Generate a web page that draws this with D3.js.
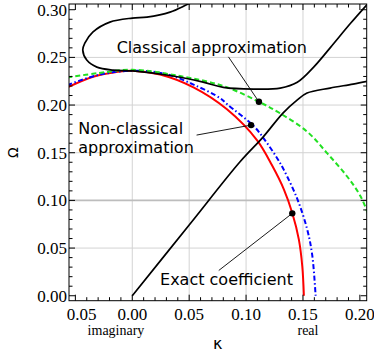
<!DOCTYPE html>
<html lang="en">
<head>
<meta charset="UTF-8">
<script src="https://cdn.jsdelivr.net/npm/d3@7/dist/d3.min.js"></script>
<style>
    body { margin: 0; background: #fff; }
    .tick-label { font-family: "Liberation Serif", serif; font-size: 17px; fill: #000; }
    .side-label { font-family: "Liberation Serif", serif; font-size: 14px; fill: #000; }
    .axis-title { font-family: "DejaVu Sans", sans-serif; fill: #000; }
    .note { font-family: "DejaVu Sans", sans-serif; font-size: 16px; fill: #000; }
</style>
</head>
<body>
<svg width="374" height="354"></svg>
<script>
// exact coefficient (red)
var exactK = [-0.057, -0.0344, -0.015, 0, 0.0244, 0.0538, 0.0832, 0.1097, 0.1229, 0.1332, 0.1406, 0.1464, 0.1494, 0.1508];
var exactW = [0.2185, 0.2297, 0.2345, 0.236, 0.232, 0.2185, 0.1955, 0.163, 0.1365, 0.1116, 0.0868, 0.0589, 0.0308, 0];
// non-classical approximation (blue, dash-dot)
var nonK = [-0.057, -0.03, 0, 0.03, 0.0538, 0.0773, 0.0832, 0.1067, 0.117, 0.1273, 0.1332, 0.145, 0.1538, 0.1582, 0.1611];
var nonW = [0.221, 0.2315, 0.236, 0.2325, 0.2215, 0.2072, 0.201, 0.178, 0.1625, 0.1443, 0.132, 0.1015, 0.0692, 0.042, 0];
// classical approximation (green, dashed)
var clasK = [-0.057, -0.03, 0, 0.042, 0.0802, 0.1113, 0.130, 0.1538, 0.1714, 0.189, 0.2008, 0.209];
var clasW = [0.229, 0.2335, 0.237, 0.2304, 0.2199, 0.2034, 0.1913, 0.172, 0.1493, 0.1248, 0.1038, 0.080];
// black curves: upper loop and lower branch from origin
var upperK = [0.0572, 0.0491, 0.0332, 0.0129, 0, -0.0197, -0.0347, -0.0417, -0.0435, -0.040, -0.0311, -0.017, 0.0006, 0.0332, 0.0623, 0.080, 0.1065, 0.130, 0.145, 0.1594, 0.1744, 0.192, 0.209];
var upperW = [0.310, 0.3059, 0.2975, 0.2923, 0.2912, 0.287, 0.2765, 0.265, 0.2576, 0.2472, 0.2398, 0.2367, 0.2358, 0.231, 0.224, 0.2185, 0.2168, 0.2178, 0.2239, 0.2398, 0.2608, 0.286, 0.309];
var lowerK = [0, 0.05, 0.0947, 0.1149, 0.1324, 0.1448, 0.1536, 0.1738, 0.194, 0.209];
var lowerW = [0, 0.0742, 0.1405, 0.1664, 0.1916, 0.2052, 0.2126, 0.2178, 0.222, 0.2255];

// labelled points
var dotK = [0.1113, 0.1044, 0.1406];
var dotW = [0.2034, 0.179, 0.0864];
var noteText = [["Classical approximation"], ["Non-classical", "approximation"], ["Exact coefficient"]];
var noteK = [-0.0137, -0.0475, 0.0244];
var noteW = [0.2542, 0.1696, 0.0112];
var leadK = [0.0845, 0.0565, 0.076];
var leadW = [0.2506, 0.1685, 0.0265];

// ticks
var xLabelAt = [-0.0445, 0, 0.05, 0.10, 0.15, 0.20];
var xLabels = ["0.05", "0.00", "0.05", "0.10", "0.15", "0.20"];
var yMajor = [0, 0.05, 0.10, 0.15, 0.20, 0.25, 0.30];
var xGrid = [0, 0.05, 0.10, 0.15];
var yGrid = [0.05, 0.10, 0.15, 0.20, 0.25];
var sideText = ["imaginary", "real"];
var sideK = [-0.0143, 0.1544];

var svg = d3.select("svg");
var pL = 69, pR = 366.7, pT = 4, pB = 300.7;

var x = d3.scaleLinear().domain([-0.0556, 0.206]).range([pL, pR]);
var y = d3.scaleLinear().domain([-0.0052, 0.306]).range([pB, pT]);

svg.append("defs").append("clipPath").attr("id", "plot")
    .append("rect")
    .attr("x", pL).attr("y", pT)
    .attr("width", pR - pL).attr("height", pB - pT);

// grid
var grid = svg.append("g");
grid.selectAll(".gx").data(xGrid).enter().append("line")
    .attr("x1", function(d) { return x(d); }).attr("x2", function(d) { return x(d); })
    .attr("y1", pT).attr("y2", pB)
    .attr("stroke", "#d3d3d3").attr("stroke-width", 1);
grid.selectAll(".gy").data(yGrid).enter().append("line")
    .attr("x1", pL).attr("x2", pR)
    .attr("y1", function(d) { return y(d); }).attr("y2", function(d) { return y(d); })
    .attr("stroke", function(d) { return d === 0.10 ? "#bdbdbd" : "#d3d3d3"; })
    .attr("stroke-width", function(d) { return d === 0.10 ? 1.6 : 1; });

// curves
var plot = svg.append("g").attr("clip-path", "url(#plot)");
var line = d3.line()
    .x(function(d) { return x(d[0]); })
    .y(function(d) { return y(d[1]); })
    .curve(d3.curveCatmullRom.alpha(0.5));

function curve(ks, ws, color, width, dash) {
    plot.append("path")
        .datum(d3.zip(ks, ws))
        .attr("d", line)
        .attr("fill", "none")
        .attr("stroke", color)
        .attr("stroke-width", width)
        .attr("stroke-dasharray", dash);
}
curve(exactK, exactW, "#ff0000", 2, null);
curve(nonK, nonW, "#0000ff", 2, "5,2.5,1.5,2.5");
curve(clasK, clasW, "#22e022", 2, "5,3");
curve(upperK, upperW, "#000", 1.7, null);
curve(lowerK, lowerW, "#000", 1.7, null);

// annotations
var notes = svg.append("g");
d3.range(dotK.length).forEach(function(i) {
    notes.append("line")
        .attr("x1", x(leadK[i])).attr("y1", y(leadW[i]))
        .attr("x2", x(dotK[i])).attr("y2", y(dotW[i]))
        .attr("stroke", "#000").attr("stroke-width", 0.9);
    notes.append("circle")
        .attr("cx", x(dotK[i])).attr("cy", y(dotW[i]))
        .attr("r", 3.2).attr("fill", "#000");
    var t = notes.append("text").attr("class", "note")
        .attr("x", x(noteK[i])).attr("y", y(noteW[i]));
    noteText[i].forEach(function(s, j) {
        t.append("tspan").attr("x", x(noteK[i])).attr("dy", j ? 19.3 : 0).text(s);
    });
});

// frame + ticks
var frame = svg.append("g").attr("stroke", "#000").attr("stroke-width", 1).attr("fill", "none");
frame.append("rect")
    .attr("x", pL).attr("y", pT)
    .attr("width", pR - pL).attr("height", pB - pT);

var xMinor = d3.range(-5, 21).map(function(i) { return i / 100; });
var yMinor = d3.range(0, 31).map(function(i) { return i / 100; });
function isMajor(v) { return Math.abs(v * 20 - Math.round(v * 20)) < 1e-6; }

xMinor.forEach(function(v) {
    var len = isMajor(v) ? 6 : 3.5;
    frame.append("line").attr("x1", x(v)).attr("x2", x(v)).attr("y1", pB).attr("y2", pB - len);
    frame.append("line").attr("x1", x(v)).attr("x2", x(v)).attr("y1", pT).attr("y2", pT + len);
});
yMinor.forEach(function(v) {
    var len = isMajor(v) ? 6 : 3.5;
    frame.append("line").attr("y1", y(v)).attr("y2", y(v)).attr("x1", pL).attr("x2", pL + len);
    frame.append("line").attr("y1", y(v)).attr("y2", y(v)).attr("x1", pR).attr("x2", pR - len);
});

// tick labels
svg.selectAll(".xl").data(xLabels).enter().append("text")
    .attr("class", "tick-label")
    .attr("x", function(d, i) { return x(xLabelAt[i]); })
    .attr("y", pB + 19.5)
    .attr("text-anchor", "middle")
    .text(function(d) { return d; });
svg.selectAll(".yl").data(yMajor).enter().append("text")
    .attr("class", "tick-label")
    .attr("x", pL - 2)
    .attr("y", function(d) { return y(d) + 5.8; })
    .attr("text-anchor", "end")
    .text(function(d) { return d3.format(".2f")(d); });

svg.selectAll(".sl").data(sideText).enter().append("text")
    .attr("class", "side-label")
    .attr("x", function(d, i) { return x(sideK[i]); })
    .attr("y", pB + 34.5)
    .attr("text-anchor", "middle")
    .text(function(d) { return d; });

// axis titles
svg.append("text").attr("class", "axis-title")
    .attr("font-size", 16)
    .attr("x", x(0.075)).attr("y", 349)
    .attr("text-anchor", "middle")
    .text("κ");
svg.append("text").attr("class", "axis-title")
    .attr("font-size", 14)
    .attr("transform", "translate(18," + y(0.15) + ") rotate(-90)")
    .attr("text-anchor", "middle")
    .text("Ω");
</script>
</body>
</html>
